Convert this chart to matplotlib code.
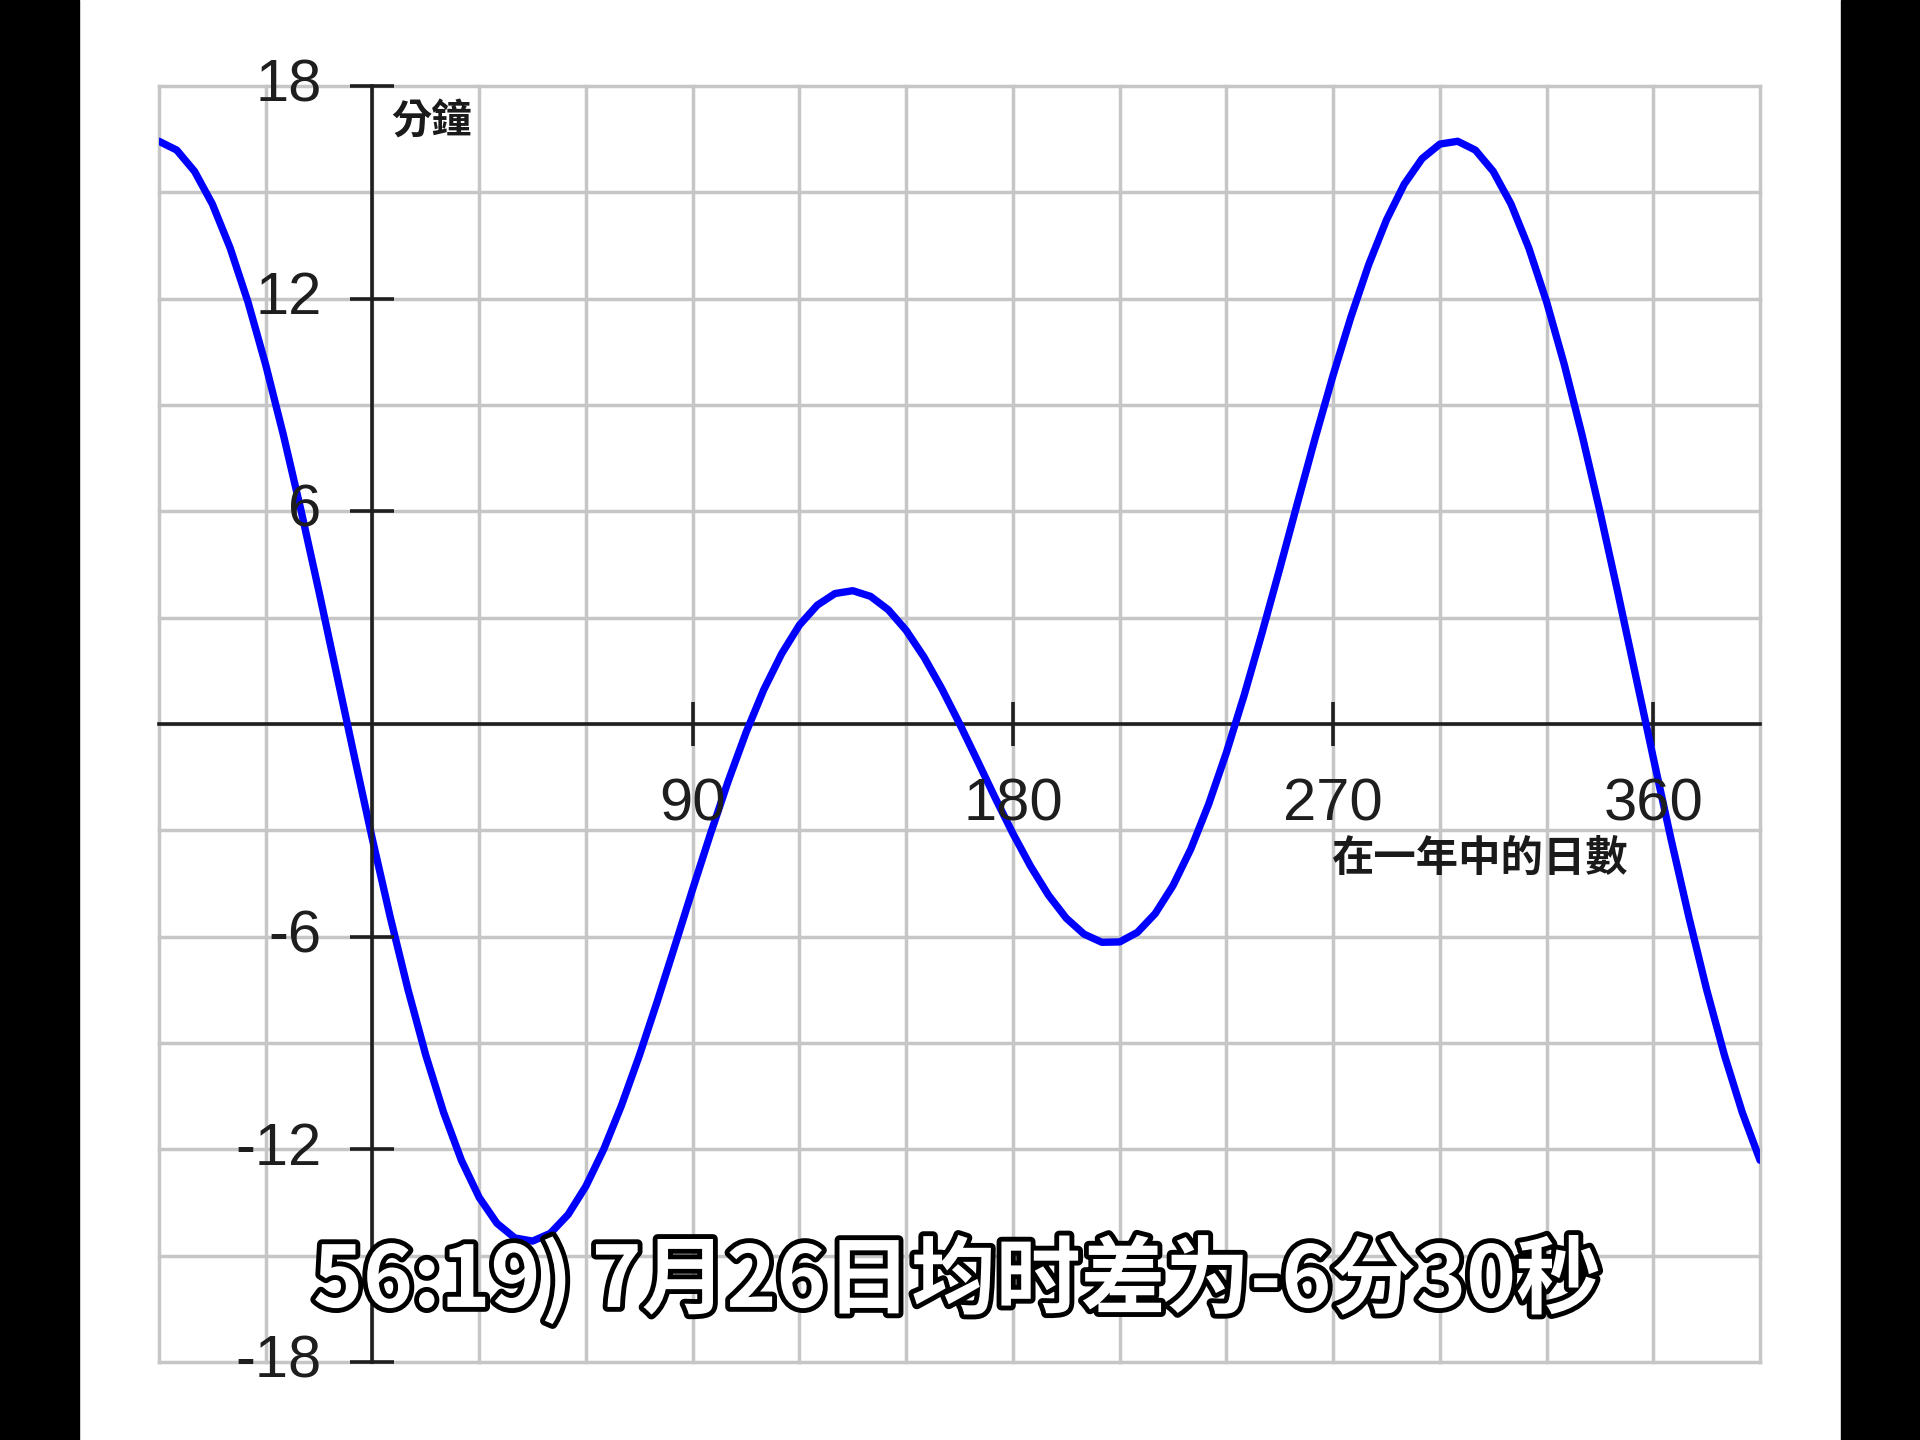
import matplotlib
matplotlib.use("Agg")
import matplotlib.pyplot as plt
import matplotlib.patheffects as pe
from matplotlib.patches import Rectangle

# Equation of time, every 5 days (minutes)
days = [-60, -55, -50, -45, -40, -35, -30, -25, -20, -15, -10, -5,
        0, 5, 10, 15, 20, 25, 30, 35, 40, 45, 50, 55,
        60, 65, 70, 75, 80, 85, 90, 95, 100, 105, 110, 115,
        120, 125, 130, 135, 140, 145, 150, 155, 160, 165, 170, 175,
        180, 185, 190, 195, 200, 205, 210, 215, 220, 225, 230, 235,
        240, 245, 250, 255, 260, 265, 270, 275, 280, 285, 290, 295,
        300, 305, 310, 315, 320, 325, 330, 335, 340, 345, 350, 355,
        360, 365, 370, 375, 380, 385, 390]
eot_minutes = [16.44, 16.19, 15.59, 14.67, 13.43, 11.91, 10.13, 8.14, 5.99, 3.72, 1.38, -0.96,
               -3.26, -5.45, -7.50, -9.35, -10.96, -12.31, -13.36, -14.09, -14.50, -14.59, -14.37, -13.84,
               -13.04, -12.00, -10.76, -9.36, -7.84, -6.26, -4.66, -3.10, -1.61, -0.24, 0.97, 1.98,
               2.79, 3.35, 3.68, 3.76, 3.60, 3.22, 2.64, 1.89, 1.00, 0.01, -1.03, -2.08,
               -3.09, -4.02, -4.83, -5.48, -5.93, -6.16, -6.15, -5.88, -5.35, -4.56, -3.53, -2.27,
               -0.81, 0.81, 2.56, 4.38, 6.24, 8.08, 9.84, 11.48, 12.96, 14.22, 15.23, 15.95,
               16.36, 16.44, 16.19, 15.59, 14.67, 13.43, 11.91, 10.13, 8.14, 5.99, 3.72, 1.38,
               -0.96, -3.26, -5.45, -7.50, -9.35, -10.96, -12.31]

x_grid = [-60, -30, 0, 30, 60, 90, 120, 150, 180, 210, 240, 270, 300, 330, 360, 390]
y_grid = [-18, -15, -12, -9, -6, -3, 0, 3, 6, 9, 12, 15, 18]
x_ticks = [90, 180, 270, 360]
y_ticks = [18, 12, 6, -6, -12, -18]

x_label = "在一年中的日數"
y_label = "分鐘"
caption = "56:19) 7月26日均时差为-6分30秒"

CJK = ["Noto Sans CJK TC", "DejaVu Sans"]
DIGITS = ["Liberation Sans", "DejaVu Sans"]
AXIS_COLOR = "#1e1e1e"
GRID_COLOR = "#c6c6c6"

fig = plt.figure(figsize=(19.2, 14.4), dpi=100, facecolor="white")

# black pillarbox bars of the screenshot
fig.patches.append(Rectangle((0, 0), 79 / 1920, 1, transform=fig.transFigure,
                             color="black", zorder=0))
fig.patches.append(Rectangle((1841 / 1920, 0), 79 / 1920, 1, transform=fig.transFigure,
                             color="black", zorder=0))

ax = fig.add_axes([0.0828, 0.0542, 0.8339, 0.8861])
ax.set_xlim(-60, 390)
ax.set_ylim(-18, 18)
ax.axis("off")

for x in x_grid:
    ax.axvline(x, color=GRID_COLOR, lw=2.5, zorder=1, clip_on=False)
for y in y_grid:
    ax.axhline(y, color=GRID_COLOR, lw=2.5, zorder=1, clip_on=False)

# axes through the origin
ax.axhline(0, color=AXIS_COLOR, lw=2.6, zorder=2, clip_on=False)
ax.axvline(0, color=AXIS_COLOR, lw=2.6, zorder=5, clip_on=False)
ax.plot([0] * len(y_ticks), y_ticks, linestyle="none", marker="_", markersize=31,
        mew=2.6, color=AXIS_COLOR, zorder=5, clip_on=False)
ax.plot(x_ticks, [0] * len(x_ticks), linestyle="none", marker="|", markersize=31,
        mew=2.6, color=AXIS_COLOR, zorder=2, clip_on=False)

ax.plot(days, eot_minutes, color="#0000ff", lw=5.3, zorder=3,
        solid_capstyle="round", solid_joinstyle="round")

for y in y_ticks:
    ax.text(-14.3, y, str(y), ha="right", va="center", fontsize=43,
            family=DIGITS, color=AXIS_COLOR, zorder=6)
for x in x_ticks:
    ax.text(x, -2.3, str(x), ha="center", va="center", fontsize=43,
            family=DIGITS, color=AXIS_COLOR, zorder=6)

ax.text(5.3, 17.0, y_label, ha="left", va="center", fontsize=29,
        family=CJK, weight="bold", color="#1a1a1a", zorder=6)
ax.text(269.5, -3.8, x_label, ha="left", va="center", fontsize=30.5,
        family=CJK, weight="bold", color="#1a1a1a", zorder=6)

# burned-in video caption
fig.text(0.4985, 0.111, caption, ha="center", va="center", fontsize=61,
         family=["Noto Sans CJK SC", "DejaVu Sans"], weight="bold", color="white",
         path_effects=[pe.withStroke(linewidth=7, foreground="black")], zorder=10)

fig.savefig("out.png", dpi=100, facecolor="white")
